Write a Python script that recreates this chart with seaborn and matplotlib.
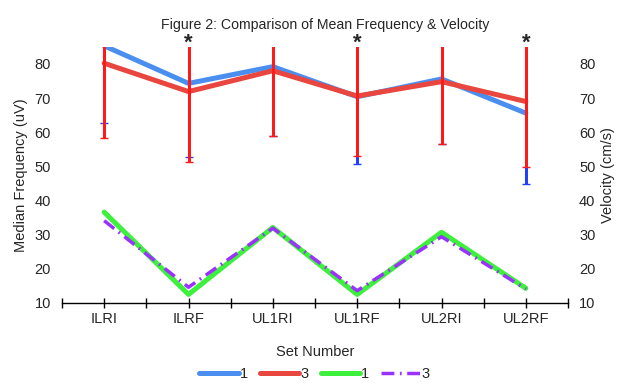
import pandas as pd
import matplotlib.pyplot as plt
import seaborn as sns

# Datos
sets = ["ILRI", "ILRF", "UL1RI", "UL1RF", "UL2RI", "UL2RF"]
freq_1 = [85.3, 74.3, 79.2, 70.4, 75.6, 65.6]
freq_3 = [80.2, 71.9, 78.0, 70.6, 74.8, 69.0]
freq_1_err = [22.7, 21.6, 20.2, 19.8, 19.1, 20.7]
freq_3_err = [22.0, 20.5, 19.1, 17.7, 18.3, 19.1]
vel_1 = [36.6, 12.5, 32.1, 12.5, 30.7, 14.3]
vel_3 = [34.1, 14.6, 31.9, 13.6, 29.4, 14.1]
significant = ["ILRF", "UL1RF", "UL2RF"]

pos = list(range(len(sets)))
df = pd.DataFrame({"pos": pos, "set": sets, "freq_1": freq_1, "freq_3": freq_3,
                   "vel_1": vel_1, "vel_3": vel_3})

sns.set_style("white")
plt.rcParams["font.family"] = ["Liberation Sans", "DejaVu Sans"]
plt.rcParams["font.size"] = 10

fig, ax = plt.subplots(figsize=(6.17, 3.84), dpi=100)
fig.subplots_adjust(left=0.1005, right=0.9206, bottom=0.211, top=0.878)
ax2 = ax.twinx()

# Barras de error (frecuencia), sin antialiasing para que el rojo tape al azul
for vals, err, col, z in [(freq_1, freq_1_err, "#2040ff", 3), (freq_3, freq_3_err, "#ff1a1a", 3.1)]:
    cont = ax.errorbar(df["pos"], vals, yerr=err, fmt="none", ecolor=col,
                       elinewidth=1, capsize=3, capthick=1, zorder=z)
    for c in list(cont[2]) + list(cont[1]):
        c.set_antialiased(False)

handles = []
sns.lineplot(data=df, x="pos", y="freq_1", ax=ax, color="#4a8ff0", lw=3.6, zorder=2)
handles.append(ax.lines[-1])
sns.lineplot(data=df, x="pos", y="freq_3", ax=ax, color="#e8463f", lw=3.6, zorder=2.1)
handles.append(ax.lines[-1])
sns.lineplot(data=df, x="pos", y="vel_1", ax=ax2, color="#3cf03c", lw=3.6, zorder=2)
handles.append(ax2.lines[-1])
sns.lineplot(data=df, x="pos", y="vel_3", ax=ax2, color="#9b30ff", lw=2.5, zorder=2.1,
             linestyle=(0, (3.7, 1.6, 0.5, 1.6)))
handles.append(ax2.lines[-1])

# Ejes
for a in (ax, ax2):
    a.set_ylim(10, 85)
    a.set_yticks([10, 20, 30, 40, 50, 60, 70, 80])
    a.tick_params(axis="y", length=0, pad=8, labelsize=10.5)
    for s in ["left", "right", "top"]:
        a.spines[s].set_visible(False)
ax2.spines["bottom"].set_visible(False)
ax.spines["bottom"].set_color("black")
ax.spines["bottom"].set_linewidth(1)

ax.set_xlim(-0.5, len(sets) - 0.5)
ax.set_xticks(pos)
ax.set_xticklabels(sets)
ax.set_xticks([p - 0.5 for p in pos] + [len(sets) - 0.5], minor=True)
ax.tick_params(axis="x", which="both", direction="inout", length=7, width=1,
               color="black", bottom=True, pad=3, labelsize=10.5)

ax.set_xlabel("Set Number", fontsize=10.5, labelpad=14)
ax.set_ylabel("Median Frequency (uV)", fontsize=10.5, labelpad=5)
ax2.set_ylabel("Velocity (cm/s)", fontsize=10.5, rotation=90, labelpad=4)
ax.set_title("Figure 2: Comparison of Mean Frequency & Velocity", fontsize=10.2,
             pad=13, x=0.52)

for s in significant:
    ax.annotate("*", xy=(sets.index(s), 85), xytext=(0, -5), textcoords="offset points",
                ha="center", va="bottom", fontsize=16, fontweight="bold",
                annotation_clip=False)

fig.legend(handles, ["1", "3", "1", "3"], loc="lower center", bbox_to_anchor=(0.51, -0.027),
           ncol=4, frameon=False, handlelength=2.7, handletextpad=0.1,
           columnspacing=0.8, fontsize=10.5)

plt.savefig("out.png", dpi=100)
plt.close()
